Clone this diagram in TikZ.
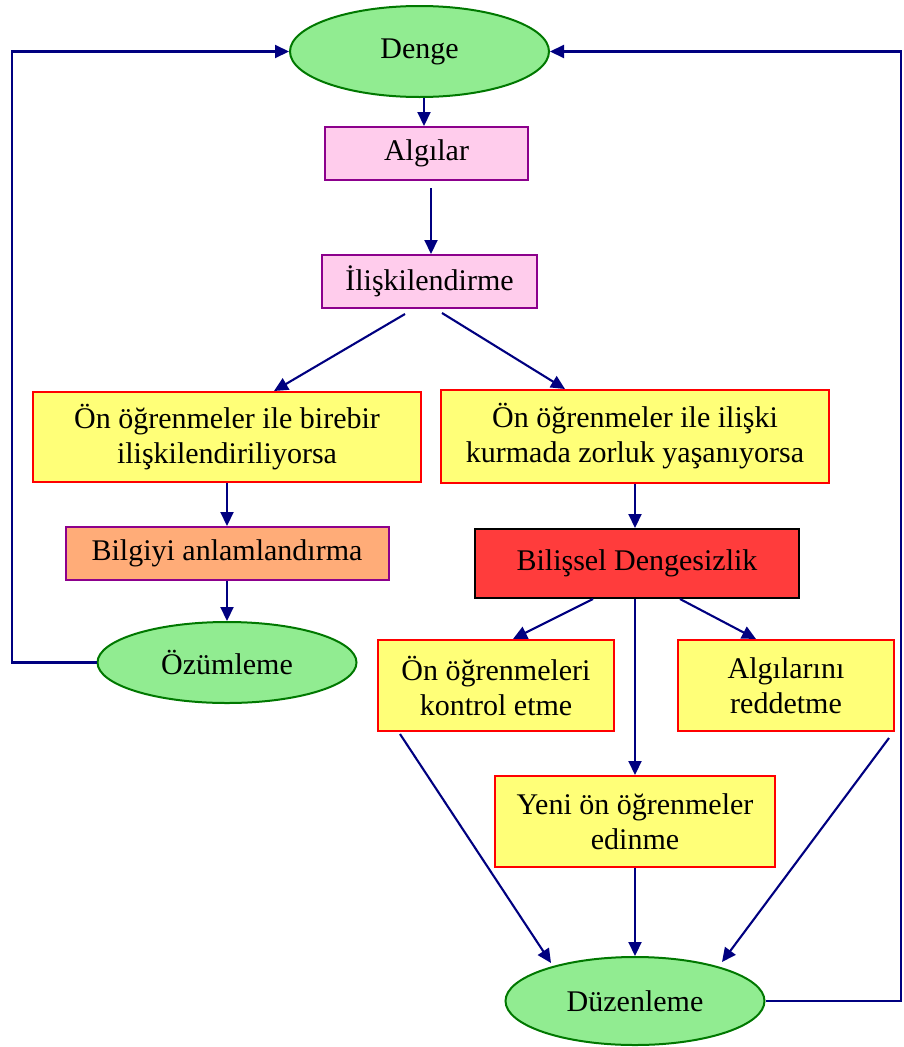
\documentclass[tikz,border=0pt]{standalone}
\usepackage{fontspec}
\setmainfont{Liberation Serif}
\usetikzlibrary{shapes.geometric,arrows.meta}
\definecolor{navyline}{RGB}{0,0,128}
\definecolor{greenfill}{RGB}{145,236,145}
\definecolor{greenline}{RGB}{0,120,0}
\definecolor{pinkfill}{RGB}{255,204,236}
\definecolor{purpleline}{RGB}{140,0,140}
\definecolor{yellowfill}{RGB}{255,255,120}
\definecolor{redline}{RGB}{255,0,0}
\definecolor{orangefill}{RGB}{255,172,120}
\definecolor{redfill}{RGB}{255,60,60}
\tikzset{
  every node/.style={font=\fontsize{30}{35}\selectfont, align=center, inner sep=0pt},
  oval/.style={ellipse, draw=greenline, fill=greenfill, line width=2pt},
  pinkbox/.style={rectangle, draw=purpleline, fill=pinkfill, line width=2pt},
  yellowbox/.style={rectangle, draw=redline, fill=yellowfill, line width=2pt},
  orangebox/.style={rectangle, draw=purpleline, fill=orangefill, line width=2pt},
  redbox/.style={rectangle, draw=black, fill=redfill, line width=2pt},
  arr/.style={draw=navyline, line width=2.1pt, -{Triangle[length=14pt,width=13pt]}},
}
\begin{document}
\begin{tikzpicture}[x=1pt,y=-1pt]
\useasboundingbox (0,0) rectangle (903,1047);

% top of the cycle
\node[oval, minimum width=259pt, minimum height=91pt] (denge) at (419.5,51.5) {Denge};
\node[pinkbox, minimum width=203pt, minimum height=53pt] (algi) at (426.5,153.5) {Algılar};
\node[pinkbox, minimum width=215pt, minimum height=53pt] (ilis) at (429.5,281.5) {İlişkilendirme};

% the two branches
\node[yellowbox, minimum width=388pt, minimum height=90pt] (birebir) at (227,437) {Ön öğrenmeler ile birebir\\ilişkilendiriliyorsa};
\node[yellowbox, minimum width=388pt, minimum height=93pt] (zorluk) at (635,436.5) {Ön öğrenmeler ile ilişki\\kurmada zorluk yaşanıyorsa};

% assimilation side
\node[orangebox, minimum width=323pt, minimum height=53pt] (bilgi) at (227,553.5) {Bilgiyi anlamlandırma};
\node[oval, minimum width=259pt, minimum height=81pt] (ozum) at (227,662.5) {Özümleme};

% accommodation side
\node[redbox, minimum width=324pt, minimum height=69pt] (bilissel) at (637,563.5) {Bilişsel Dengesizlik};
\node[yellowbox, minimum width=236pt, minimum height=91pt] (kontrol) at (496,685.5) {Ön öğrenmeleri\\kontrol etme};
\node[yellowbox, minimum width=216pt, minimum height=91pt] (red) at (786,685.5) {Algılarını\\reddetme};
\node[yellowbox, minimum width=280pt, minimum height=91pt] (yeni) at (635,821.5) {Yeni ön öğrenmeler\\edinme};
\node[oval, minimum width=259pt, minimum height=88pt] (duz) at (635,1001) {Düzenleme};

% corners of the feedback loops
\coordinate (lcorner) at (12,51.5);
\coordinate (rcorner) at (901,51.5);

% connectors
\draw[arr] ([xshift=4.5pt]denge.south) -- ([xshift=-2.5pt]algi.north);
\draw[arr] ([xshift=4.5pt,yshift=-7pt]algi.south) -- ([xshift=1.5pt]ilis.north);
\draw[arr] ([xshift=-24.5pt,yshift=-5pt]ilis.south) -- ([xshift=47pt]birebir.north);
\draw[arr] ([xshift=12.5pt,yshift=-4pt]ilis.south) -- ([xshift=-70pt]zorluk.north);
\draw[arr] (birebir.south) -- (bilgi.north);
\draw[arr] (bilgi.south) -- (ozum.north);
\draw[arr] (zorluk.south) -- ([xshift=-2pt]bilissel.north);
\draw[arr] ([xshift=-44pt]bilissel.south) -- ([xshift=17pt]kontrol.north);
\draw[arr] ([xshift=43pt]bilissel.south) -- ([xshift=-30pt]red.north);
\draw[arr] ([xshift=-2pt]bilissel.south) -- (yeni.north);
\draw[arr] ([xshift=-96pt,yshift=-2pt]kontrol.south) -- ([xshift=-84pt,yshift=38pt]duz.center);
\draw[arr] ([xshift=103pt,yshift=-6pt]red.south) -- ([xshift=87pt,yshift=39pt]duz.center);
\draw[arr] (yeni.south) -- (duz.north);

% feedback loops back to equilibrium
\draw[arr] (ozum.west) -| (lcorner) -- (denge.west);
\draw[arr] (duz.east) -| (rcorner) -- (denge.east);
\end{tikzpicture}
\end{document}
